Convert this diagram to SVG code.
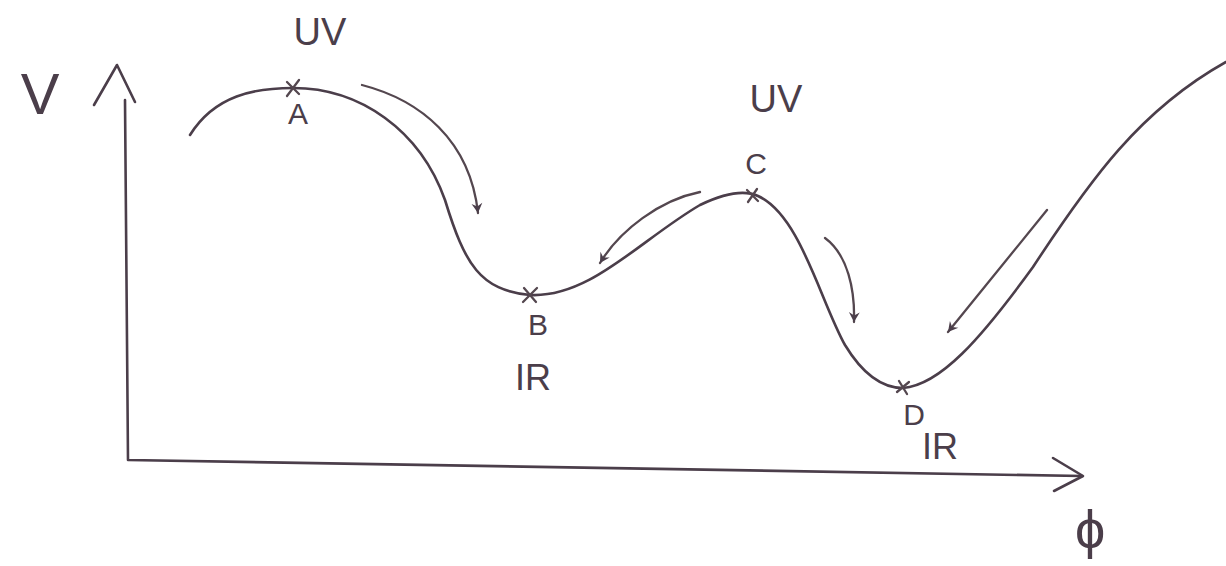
<svg xmlns="http://www.w3.org/2000/svg" width="1226" height="566" viewBox="0 0 1226 566">
<style>
.ln{fill:none;stroke:#4b3e4a;stroke-width:2.6;stroke-linecap:round;stroke-linejoin:round}
.th{fill:none;stroke:#54474f;stroke-width:2.3;stroke-linecap:round;stroke-linejoin:round}
.t{font-family:"Liberation Sans",Arial,sans-serif;fill:#4b3e4a;text-anchor:middle}
</style>
<defs>
<marker id="ah" viewBox="0 0 12 12" refX="10" refY="6" markerWidth="13" markerHeight="13" markerUnits="userSpaceOnUse" orient="auto">
<path d="M1,1 L10,6 L1,11 L4,6 Z" fill="#4b3e4a"/>
</marker>
</defs>
<rect width="1226" height="566" fill="#ffffff"/>
<g id="axes">
<path class="ln" d="M125,100 L128,460 L1082,476"/>
<path class="ln" d="M94,105 L117,65 L135,102"/>
<path class="ln" d="M1053,458 L1083,476 L1054,491"/>
<text class="t" x="40" y="114" font-size="58">V</text>
<text class="t" x="1090" y="548" font-size="54">ϕ</text>
</g>
<g id="curve">
<path class="ln" d="M190,135 C215,95 255,88 293,88 C360,88 420,130 445,200 C465,265 480,290 530,295 C590,298 640,240 700,205 C725,193 745,190 758,196 C800,215 820,300 845,345 C865,378 885,388 903,388 C940,385 980,340 1033,267 C1090,180 1140,110 1226,62"/>
</g>
<g id="A">
<path class="th" d="M287,82 L299,94 M299,80 L287,96"/>
<text class="t" x="298" y="124" font-size="30">A</text>
<text class="t" x="320" y="45" font-size="38">UV</text>
</g>
<g id="B">
<path class="th" d="M524,288 L536,302 M537,288 L523,302"/>
<text class="t" x="538" y="335" font-size="30">B</text>
<text class="t" x="533" y="390" font-size="36">IR</text>
</g>
<g id="C">
<path class="th" d="M747,190 L758,201 M757,189 L748,202"/>
<text class="t" x="756" y="174" font-size="30">C</text>
<text class="t" x="776" y="112" font-size="38">UV</text>
</g>
<g id="D">
<path class="th" d="M897,392 L909,382 M899,381 L907,394"/>
<text class="t" x="914" y="425" font-size="30">D</text>
<text class="t" x="940" y="459" font-size="36">IR</text>
</g>
<g id="connectors">
<path class="th" d="M362,85 C420,100 470,140 478,213" marker-end="url(#ah)"/>
<path class="th" d="M700,192 C660,200 620,230 600,263" marker-end="url(#ah)"/>
<path class="th" d="M825,238 C848,255 855,290 854,322" marker-end="url(#ah)"/>
<path class="th" d="M1047,210 L948,332" marker-end="url(#ah)"/>
</g>
</svg>
